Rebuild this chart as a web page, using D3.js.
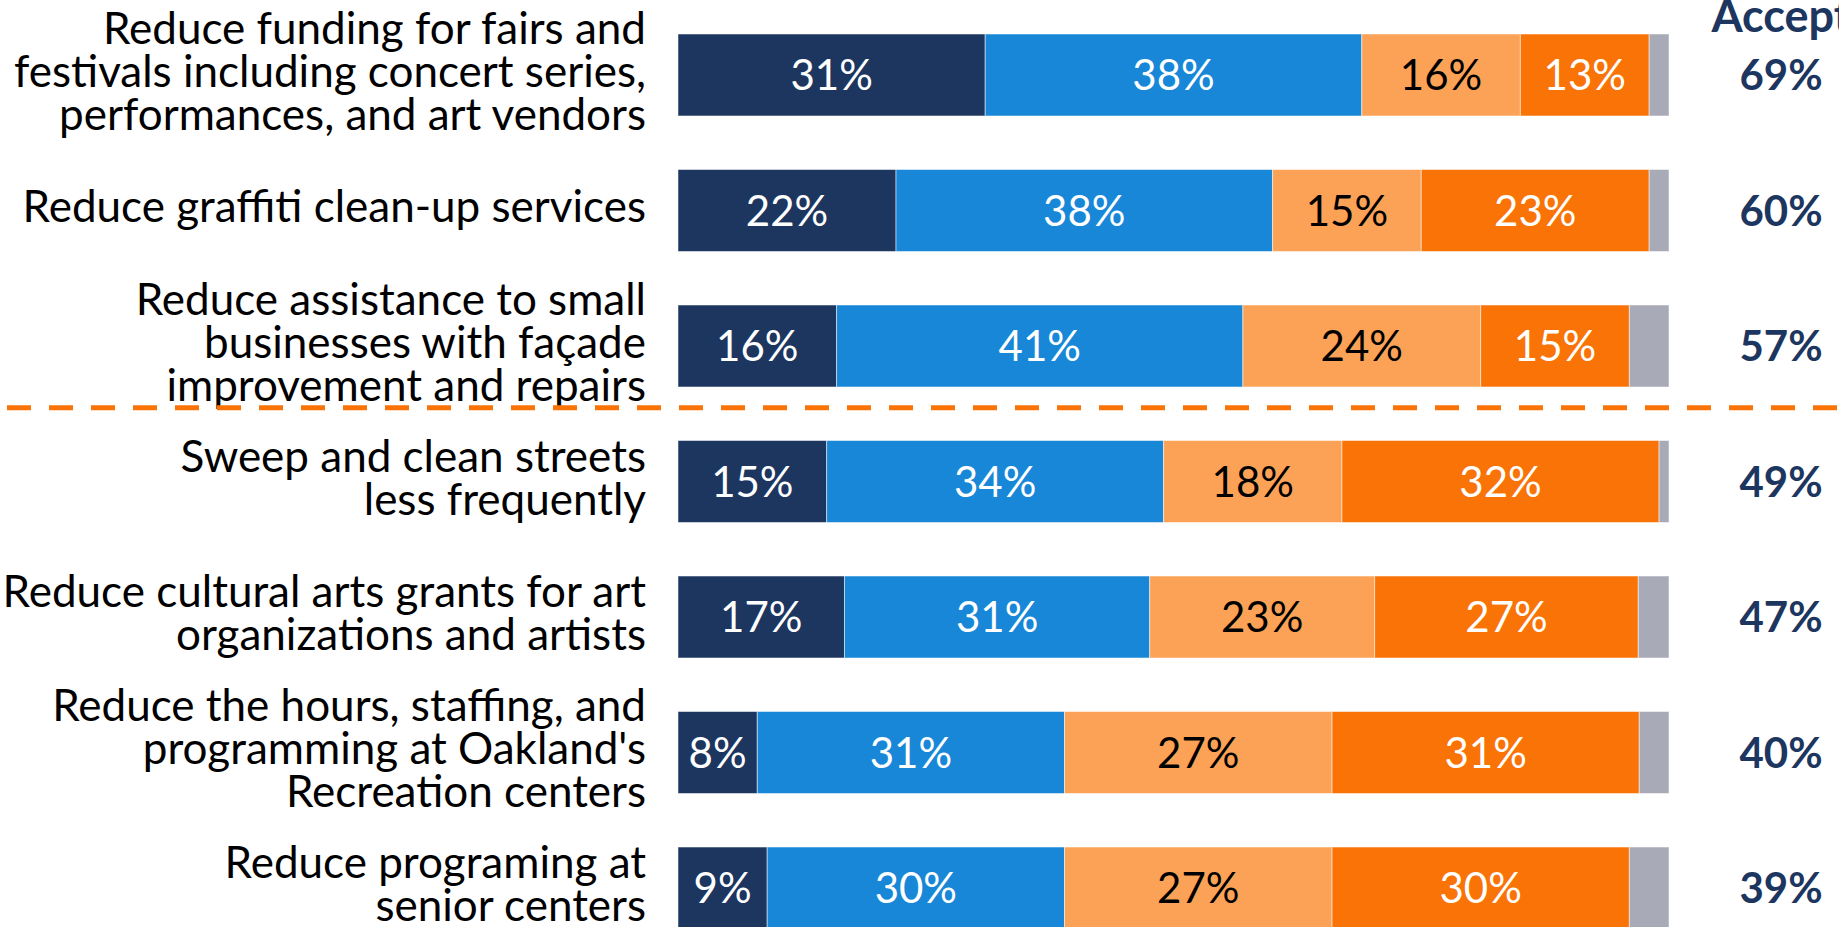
<!DOCTYPE html>
<html>
<head>
<meta charset="utf-8">
<script src="https://cdn.jsdelivr.net/npm/d3@7"></script>
<style>
  body { margin: 0; background: #fff; }
  svg { display: block; }
</style>
</head>
<body>
<div id="chart"></div>
<script>
// statements, top to bottom (each line of the label is one entry)
var items = [
  ["Reduce funding for fairs and", "festivals including concert series,", "performances, and art vendors"],
  ["Reduce graffiti clean-up services"],
  ["Reduce assistance to small", "businesses with façade", "improvement and repairs"],
  ["Sweep and clean streets", "less frequently"],
  ["Reduce cultural arts grants for art", "organizations and artists"],
  ["Reduce the hours, staffing, and", "programming at Oakland's", "Recreation centers"],
  ["Reduce programing at", "senior centers"]
];

// answer groups (widths, in %)
var keys = ["strongly", "somewhat", "somewhatNot", "stronglyNot", "dk"];
var strongly    = [31, 22, 16, 15, 16.8, 8, 9];
var somewhat    = [38, 38, 41, 34, 30.8, 31, 30];
var somewhatNot = [16, 15, 24, 18, 22.7, 27, 27];
var stronglyNot = [13, 23, 15, 32, 26.6, 31, 30];
var dk          = [2, 2, 4, 1, 3.1, 3, 4];

// right hand column
var acceptTitle = "Accept";
var accept = [69, 60, 57, 49, 47, 40, 39];

// dashed line sits after this many rows
var splitAfter = 3;

var W = 1839, H = 927;
var fontFam = "Lato, 'Open Sans', sans-serif";

var colors = d3.scaleOrdinal()
  .domain(keys)
  .range(["#1D3660", "#1887D7", "#FCA257", "#F97306", "#A8AAB7"]);

var rows = items.map(function (d, i) {
  return {
    id: i,
    label: d,
    strongly: strongly[i],
    somewhat: somewhat[i],
    somewhatNot: somewhatNot[i],
    stronglyNot: stronglyNot[i],
    dk: dk[i],
    accept: accept[i]
  };
});

var svg = d3.select("#chart")
  .append("svg")
  .attr("width", W)
  .attr("height", H);

var x = d3.scaleLinear()
  .domain([0, 100])
  .range([678, 1669]);

var y = d3.scaleBand()
  .domain(rows.map(function (d) { return d.id; }))
  .range([34, 929])
  .paddingInner(0.395)
  .paddingOuter(0);

var stacked = d3.stack().keys(keys)(rows);

// bars
var layers = svg.append("g")
  .selectAll("g")
  .data(stacked)
  .join("g")
  .attr("fill", function (d) { return colors(d.key); });

layers.selectAll("rect")
  .data(function (d) { return d; })
  .join("rect")
  .attr("x", function (d) { return x(d[0]); })
  .attr("y", function (d) { return y(d.data.id); })
  .attr("width", function (d) { return x(d[1]) - x(d[0]); })
  .attr("height", y.bandwidth())
  .attr("stroke", "#fff")
  .attr("stroke-opacity", 0.5)
  .attr("stroke-width", 1);

// percentages inside bars (not the grey bit)
layers.filter(function (d) { return d.key != "dk"; })
  .selectAll("text")
  .data(function (d) { return d.map(function (v) { v.key = d.key; return v; }); })
  .join("text")
  .attr("x", function (d) { return (x(d[0]) + x(d[1])) / 2; })
  .attr("y", function (d) { return y(d.data.id) + y.bandwidth() / 2; })
  .attr("dy", "0.36em")
  .attr("text-anchor", "middle")
  .style("font-family", fontFam)
  .style("font-size", "42px")
  .attr("fill", function (d) { return d.key == "somewhatNot" ? "#000" : "#fff"; })
  .text(function (d) { return Math.round(d[1] - d[0]) + "%"; });

// left labels
var lineGap = 43;
var labels = svg.append("g")
  .selectAll("text")
  .data(rows)
  .join("text")
  .attr("text-anchor", "end")
  .style("font-family", fontFam)
  .style("font-size", "44px")
  .attr("fill", "#000")
  .attr("transform", function (d) {
    return "translate(646," + (y(d.id) + y.bandwidth() / 2 - 4) + ")";
  });

labels.selectAll("tspan")
  .data(function (d) {
    var n = d.label.length;
    return d.label.map(function (t, i) { return { t: t, off: (i - (n - 1) / 2) * lineGap }; });
  })
  .join("tspan")
  .attr("x", 0)
  .attr("y", function (d) { return d.off; })
  .attr("dy", "0.36em")
  .text(function (d) { return d.t; });

// dashed divider
var divY = (y(splitAfter - 1) + y.bandwidth() + y(splitAfter)) / 2 - 6;
svg.append("line")
  .attr("x1", 7)
  .attr("x2", W)
  .attr("y1", divY)
  .attr("y2", divY)
  .attr("stroke", "#F97306")
  .attr("stroke-width", 5)
  .attr("stroke-dasharray", "24,18");

// accept column
var accX = 1781;
svg.append("text")
  .attr("x", accX)
  .attr("y", 32)
  .attr("text-anchor", "middle")
  .style("font-family", fontFam)
  .style("font-size", "45px")
  .style("font-weight", "bold")
  .attr("fill", "#1D3660")
  .text(acceptTitle);

svg.append("g")
  .selectAll("text")
  .data(rows)
  .join("text")
  .attr("x", accX)
  .attr("y", function (d) { return y(d.id) + y.bandwidth() / 2; })
  .attr("dy", "0.36em")
  .attr("text-anchor", "middle")
  .style("font-family", fontFam)
  .style("font-size", "42px")
  .style("font-weight", "bold")
  .attr("fill", "#1D3660")
  .text(function (d) { return d.accept + "%"; });
</script>
</body>
</html>
